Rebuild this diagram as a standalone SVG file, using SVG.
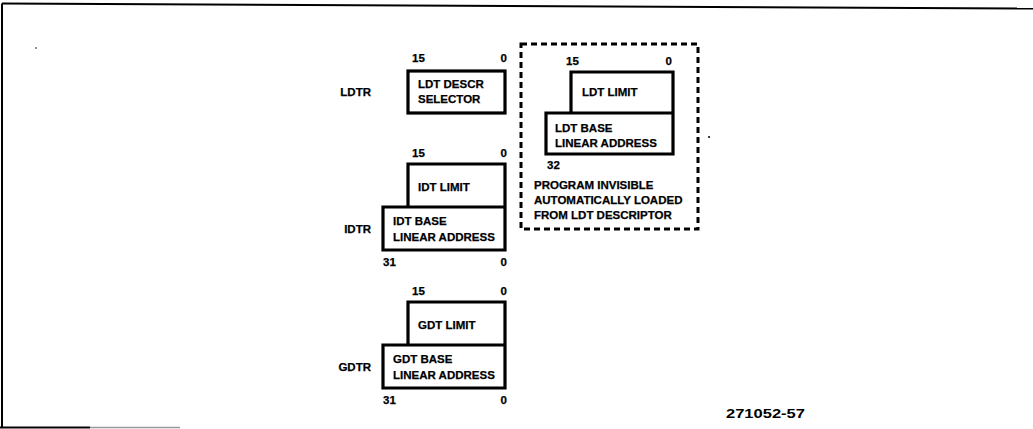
<svg xmlns="http://www.w3.org/2000/svg" width="1033" height="429" viewBox="0 0 1033 429">
<style>
.t{font-family:"Liberation Sans",Arial,sans-serif;font-weight:bold;font-size:11.5px;fill:#000;stroke:#000;stroke-width:0.25}
.n{font-family:"Liberation Sans",Arial,sans-serif;font-weight:bold;font-size:13.5px;fill:#000}
.box{fill:none;stroke:#000;stroke-width:3.2;stroke-linejoin:miter}
.dash{fill:none;stroke:#000;stroke-width:3;stroke-dasharray:6 4}
.e{text-anchor:end}
</style>
<rect width="1033" height="429" fill="#fff"/>
<g id="frame" fill="none" stroke="#000">
<line x1="2" y1="3.5" x2="1033" y2="8.5" stroke-width="2"/>
<line x1="2" y1="3.5" x2="2" y2="428" stroke-width="2"/>
<line x1="0" y1="427.5" x2="90" y2="427.5" stroke-width="2"/>
<line x1="90" y1="427.5" x2="180" y2="427.5" stroke-width="1.5" stroke="#999"/>
</g>
<g id="ldtr">
<text class="t e" x="371" y="96">LDTR</text>
<text class="t" x="412" y="62">15</text>
<text class="t e" x="507" y="62">0</text>
<rect class="box" x="408" y="71" width="97" height="42"/>
<text class="t" x="418" y="88">LDT DESCR</text>
<text class="t" x="418" y="103">SELECTOR</text>
</g>
<g id="ldt-cache">
<rect class="dash" x="521" y="44" width="177" height="185"/>
<text class="t" x="566" y="65">15</text>
<text class="t e" x="672" y="65">0</text>
<path class="box" d="M571,72 H673 V154 H546 V113 H571 Z M571,113 H673"/>
<text class="t" x="582" y="96">LDT LIMIT</text>
<text class="t" x="555" y="132">LDT BASE</text>
<text class="t" x="555" y="147">LINEAR ADDRESS</text>
<text class="t" x="547" y="169">32</text>
<text class="t" x="534" y="189">PROGRAM INVISIBLE</text>
<text class="t" x="534" y="204">AUTOMATICALLY LOADED</text>
<text class="t" x="534" y="219">FROM LDT DESCRIPTOR</text>
</g>
<g id="idtr">
<text class="t e" x="371" y="233">IDTR</text>
<text class="t" x="412" y="157">15</text>
<text class="t e" x="507" y="157">0</text>
<path class="box" d="M408,164 H505 V250 H383 V207 H408 Z M408,207 H505"/>
<text class="t" x="418" y="191">IDT LIMIT</text>
<text class="t" x="393" y="225">IDT BASE</text>
<text class="t" x="393" y="241">LINEAR ADDRESS</text>
<text class="t" x="383" y="266">31</text>
<text class="t e" x="507" y="266">0</text>
</g>
<g id="gdtr">
<text class="t e" x="371" y="371">GDTR</text>
<text class="t" x="412" y="295">15</text>
<text class="t e" x="507" y="295">0</text>
<path class="box" d="M408,302 H505 V388 H383 V345 H408 Z M408,345 H505"/>
<text class="t" x="418" y="329">GDT LIMIT</text>
<text class="t" x="393" y="363">GDT BASE</text>
<text class="t" x="393" y="379">LINEAR ADDRESS</text>
<text class="t" x="383" y="404">31</text>
<text class="t e" x="507" y="404">0</text>
</g>
<g id="connectors"></g>
<text class="n" x="726" y="418" textLength="79" lengthAdjust="spacingAndGlyphs">271052-57</text>
<circle cx="709" cy="137" r="1" fill="#000"/>
<circle cx="36" cy="48" r="0.8" fill="#000"/>
</svg>
